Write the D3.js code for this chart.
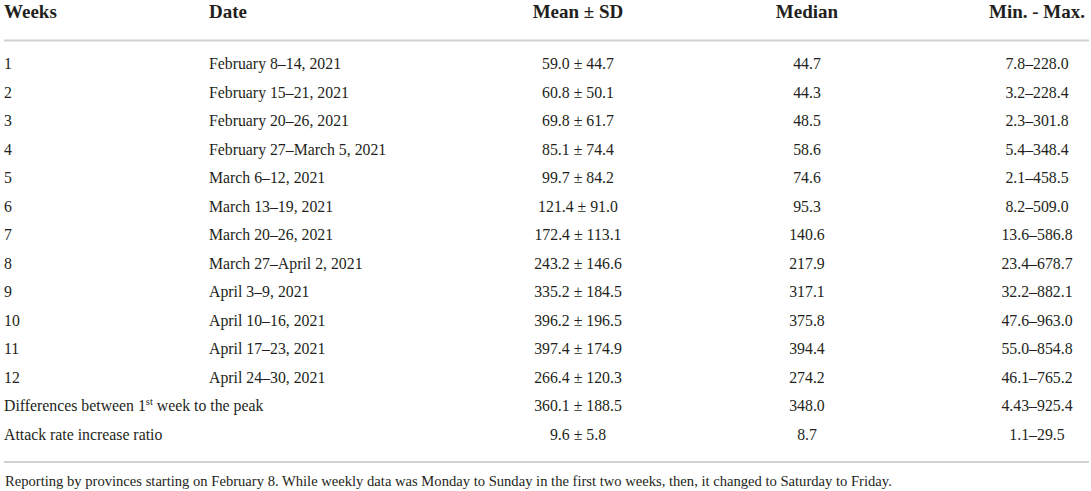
<!DOCTYPE html>
<html>
<head>
<meta charset="utf-8">
<script src="https://cdn.jsdelivr.net/npm/d3@7"></script>
<style>
  body { margin: 0; background: #fff; }
  text { font-family: "Liberation Serif", "DejaVu Serif", serif; fill: #231f20; }
</style>
</head>
<body>
<script>
// Tabellen-Daten
const weeks = ['1', '2', '3', '4', '5', '6', '7', '8', '9', '10', '11', '12'];
const dates = [
    'February 8–14, 2021', 'February 15–21, 2021', 'February 20–26, 2021',
    'February 27–March 5, 2021', 'March 6–12, 2021', 'March 13–19, 2021',
    'March 20–26, 2021', 'March 27–April 2, 2021', 'April 3–9, 2021',
    'April 10–16, 2021', 'April 17–23, 2021', 'April 24–30, 2021'
];
const means = [59.0, 60.8, 69.8, 85.1, 99.7, 121.4, 172.4, 243.2, 335.2, 396.2, 397.4, 266.4, 360.1, 9.6];
const sds = [44.7, 50.1, 61.7, 74.4, 84.2, 91.0, 113.1, 146.6, 184.5, 196.5, 174.9, 120.3, 188.5, 5.8];
const medians = [44.7, 44.3, 48.5, 58.6, 74.6, 95.3, 140.6, 217.9, 317.1, 375.8, 394.4, 274.2, 348.0, 8.7];
const mins = [7.8, 3.2, 2.3, 5.4, 2.1, 8.2, 13.6, 23.4, 32.2, 47.6, 55.0, 46.1, 4.43, 1.1];
const maxs = [228.0, 228.4, 301.8, 348.4, 458.5, 509.0, 586.8, 678.7, 882.1, 963.0, 854.8, 765.2, 925.4, 29.5];
const headers = ['Weeks', 'Date', 'Mean ± SD', 'Median', 'Min. - Max.'];
const footnote = 'Reporting by provinces starting on February 8. While weekly data was Monday to Sunday in the first two weeks, then, it changed to Saturday to Friday.';

const width = 1091;
const height = 491;

// mindestens eine Dezimalstelle
const fmt = n => (Math.round(n * 10) === n * 10) ? n.toFixed(1) : String(n);

const rows = means.map((m, i) => ({
    week: i < 12 ? weeks[i] : null,
    date: i < 12 ? dates[i] : null,
    label: i === 12 ? 'diff' : (i === 13 ? 'Attack rate increase ratio' : null),
    mean: `${fmt(m)} ± ${fmt(sds[i])}`,
    median: fmt(medians[i]),
    range: `${fmt(mins[i])}–${fmt(maxs[i])}`
}));

const svg = d3.select('body').append('svg')
    .attr('width', width)
    .attr('height', height);

// Zeilen (Grundlinien)
const y = d3.scalePoint()
    .domain(d3.range(rows.length))
    .range([69, 440]);

// Spalten: x-Position + Ausrichtung
const cols = [
    { x: 4, anchor: 'start' },
    { x: 209, anchor: 'start' },
    { x: 578, anchor: 'middle' },
    { x: 807, anchor: 'middle' },
    { x: 1037, anchor: 'middle' }
];

// Kopfzeile
svg.append('g').selectAll('text')
    .data(headers)
    .join('text')
    .attr('x', (d, i) => cols[i].x)
    .attr('y', 18)
    .attr('text-anchor', (d, i) => cols[i].anchor)
    .attr('font-size', 19)
    .attr('font-weight', 'bold')
    .text(d => d);

// Linien
svg.append('line')
    .attr('x1', 4).attr('x2', 1089)
    .attr('y1', 40.5).attr('y2', 40.5)
    .attr('stroke', '#d2d2d2').attr('stroke-width', 2);

svg.append('line')
    .attr('x1', 4).attr('x2', 1089)
    .attr('y1', 462).attr('y2', 462)
    .attr('stroke', '#d2d2d2').attr('stroke-width', 2);

const body = svg.append('g')
    .attr('font-size', 15.8);

const rowG = body.selectAll('g.row')
    .data(rows)
    .join('g')
    .attr('class', 'row')
    .attr('transform', (d, i) => `translate(0, ${y(i)})`);

rowG.filter(d => d.week).append('text')
    .attr('x', cols[0].x)
    .text(d => d.week);

rowG.filter(d => d.date).append('text')
    .attr('x', cols[1].x)
    .text(d => d.date);

// Sonderzeilen
rowG.filter(d => d.label === 'diff').append('text')
    .attr('x', cols[0].x)
    .call(t => {
        t.append('tspan').text('Differences between 1');
        t.append('tspan').attr('font-size', 10.5).attr('dy', -6).text('st');
        t.append('tspan').attr('dy', 6).text(' week to the peak');
    });

rowG.filter(d => d.label && d.label !== 'diff').append('text')
    .attr('x', cols[0].x)
    .text(d => d.label);

rowG.append('text')
    .attr('x', cols[2].x)
    .attr('text-anchor', 'middle')
    .text(d => d.mean);

rowG.append('text')
    .attr('x', cols[3].x)
    .attr('text-anchor', 'middle')
    .text(d => d.median);

rowG.append('text')
    .attr('x', cols[4].x)
    .attr('text-anchor', 'middle')
    .text(d => d.range);

// Fussnote
svg.append('text')
    .attr('x', 5)
    .attr('y', 486)
    .attr('font-size', 14.6)
    .text(footnote);
</script>
</body>
</html>
